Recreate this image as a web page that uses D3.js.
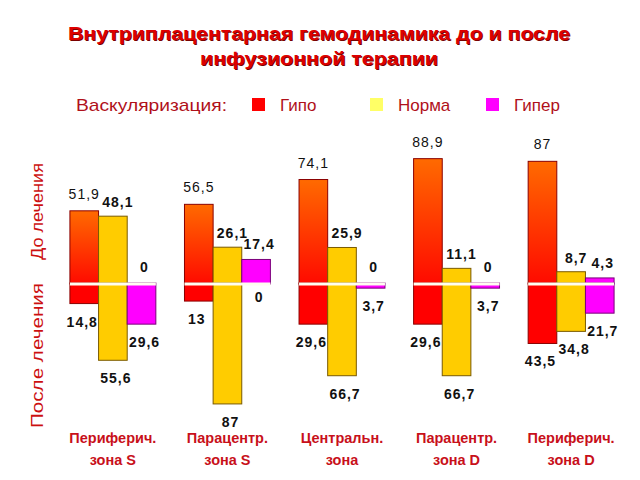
<!DOCTYPE html>
<html><head><meta charset="utf-8">
<script src="https://cdn.jsdelivr.net/npm/d3@7"></script>
<style>body{margin:0;background:#fff}svg{display:block}text{font-family:"Liberation Sans",Arial,sans-serif}</style>
</head><body><svg id="c" width="640" height="480"></svg>
<script>
const titleLines = ["Внутриплацентарная гемодинамика до и после", "инфузионной терапии"];
const legendTitle = "Васкуляризация:";
const seriesNames = ["Гипо", "Норма", "Гипер"];
const categories = [["Периферич.", "зона S"], ["Парацентр.", "зона S"], ["Центральн.", "зона"], ["Парацентр.", "зона D"], ["Периферич.", "зона D"]];
const periodLabels = ["До лечения", "После лечения"];
const beforeHypo = [51.9, 56.5, 74.1, 88.9, 87];
const beforeNorm = [48.1, 26.1, 25.9, 11.1, 8.7];
const beforeHyper = [0, 17.4, 0, 0, 4.3];
const afterHypo = [14.8, 13, 29.6, 29.6, 43.5];
const afterNorm = [55.6, 87, 66.7, 66.7, 34.8];
const afterHyper = [29.6, 0, 3.7, 3.7, 21.7];

const svg = d3.select("#c");
const defs = svg.append("defs");
const g1 = defs.append("linearGradient").attr("id", "redGrad").attr("x1", 0).attr("y1", 0).attr("x2", 0).attr("y2", 1);
g1.append("stop").attr("offset", "0%").attr("stop-color", "#ff6a00");
g1.append("stop").attr("offset", "100%").attr("stop-color", "#ff0a00");

const fills = {before: ["url(#redGrad)", "#ffcc00", "#ff00ff"], after: ["#ff0000", "#ffcc00", "#ff00ff"]};
const strokes = ["#8a0000", "#7a5a00", "#7a007a"];
const legendColors = ["#ff0000", "#ffff66", "#ff00ff"];

const idx = categories.map((d, i) => i);
const x = d3.scaleBand().domain(idx).range([55.6, 628.4]).paddingInner(0.25).paddingOuter(0.125);
const xs = d3.scaleBand().domain([0, 1, 2]).range([0, x.bandwidth()]);
const yUp = d3.scaleLinear().domain([0, 100]).range([284, 143]);
const yDown = d3.scaleLinear().domain([0, 100]).range([283, 422]);

const before = [beforeHypo, beforeNorm, beforeHyper];
const after = [afterHypo, afterNorm, afterHyper];
const recs = [];
idx.forEach(i => [0, 1, 2].forEach(s => {
  recs.push({i, s, v: before[s][i], up: true});
  recs.push({i, s, v: after[s][i], up: false});
}));

const bars = svg.append("g");
bars.selectAll("rect").data(recs.filter(d => d.v > 0)).join("rect")
  .attr("x", d => x(d.i) + xs(d.s))
  .attr("width", xs.bandwidth())
  .attr("y", d => d.up ? yUp(d.v) : yDown(0))
  .attr("height", d => d.up ? yUp(0) - yUp(d.v) : yDown(d.v) - yDown(0))
  .attr("fill", d => (d.up ? fills.before : fills.after)[d.s])
  .attr("stroke", d => strokes[d.s]).attr("stroke-width", 1);

// white separator line per group
svg.append("g").selectAll("rect").data(idx).join("rect")
  .attr("x", d => x(d)).attr("width", x.bandwidth())
  .attr("y", yUp(0) - 1.5).attr("height", 3).attr("fill", "#fffdf0");

// value labels
const fmt = v => String(v).replace(".", ",");
const dxTop = [0, 5, 3], dxBot = [-2, 3, 3];
const offTop = [12, 9, 10];
svg.append("g").selectAll("text").data(recs).join("text")
  .attr("x", d => x(d.i) + xs(d.s) + xs.bandwidth() / 2 + (d.up ? dxTop : dxBot)[d.s])
  .attr("y", d => d.up ? (d.v > 0 ? yUp(d.v) - offTop[d.s] : yUp(0) - 12) : (d.v > 0 ? yDown(d.v) + 23 : yDown(0) + 19))
  .attr("text-anchor", "middle").attr("font-size", 14).attr("letter-spacing", 1)
  .attr("font-weight", d => (d.s === 0 && d.up) ? "normal" : "bold")
  .attr("fill", "#111").text(d => fmt(d.v));

// title
const tg = svg.append("g").attr("font-weight", "bold").attr("font-size", 18).attr("text-anchor", "middle");
const tl = [[319, 40, 502], [319, 65, 238]];
titleLines.forEach((t, k) => {
  tg.append("text").attr("x", tl[k][0] + 1).attr("y", tl[k][1] + 1).attr("fill", "#7a0000")
    .attr("textLength", tl[k][2]).attr("lengthAdjust", "spacingAndGlyphs").text(t);
  tg.append("text").attr("x", tl[k][0]).attr("y", tl[k][1]).attr("fill", "#dd0000")
    .attr("textLength", tl[k][2]).attr("lengthAdjust", "spacingAndGlyphs").text(t);
});

// legend
const lg = svg.append("g").attr("font-size", 17).attr("fill", "#b0101a");
lg.append("text").attr("x", 76).attr("y", 111).attr("textLength", 151).attr("lengthAdjust", "spacingAndGlyphs").text(legendTitle);
const lx = [252, 370, 486];
seriesNames.forEach((n, k) => {
  lg.append("rect").attr("x", lx[k]).attr("y", 98).attr("width", 13).attr("height", 13).attr("fill", legendColors[k]);
  lg.append("text").attr("x", lx[k] + 28).attr("y", 111).text(n);
});

// period labels
const pg = svg.append("g").attr("font-size", 16).attr("fill", "#cc1010").attr("text-anchor", "middle");
[[211.5, 97], [355.5, 145]].forEach((p, k) => {
  pg.append("text").attr("transform", `translate(43,${p[0]}) rotate(-90)`)
    .attr("textLength", p[1]).attr("lengthAdjust", "spacingAndGlyphs").text(periodLabels[k]);
});

// category labels
const cg = svg.append("g").attr("font-size", 14.5).attr("font-weight", "bold").attr("fill", "#c8101a").attr("text-anchor", "middle");
categories.forEach((c, i) => {
  const cx = x(i) + x.bandwidth() / 2;
  cg.append("text").attr("x", cx).attr("y", 443).text(c[0]);
  cg.append("text").attr("x", cx).attr("y", 465).text(c[1]);
});
</script></body></html>
